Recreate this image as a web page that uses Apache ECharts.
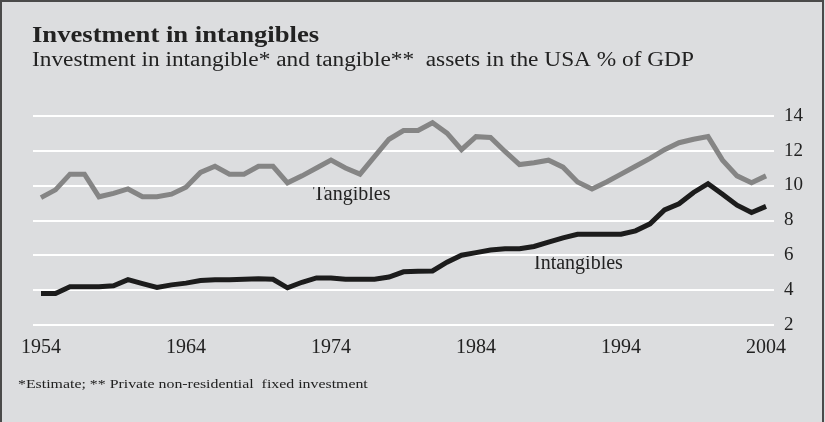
<!DOCTYPE html>
<html>
<head>
<meta charset="utf-8">
<script src="https://cdn.jsdelivr.net/npm/echarts@6/dist/echarts.min.js"></script>
<style>
html,body{margin:0;padding:0;background:#dcdddf;}
#chart{width:825px;height:422px;}
</style>
</head>
<body>
<div id="chart"></div>
<script>
var years = [1954,1955,1956,1957,1958,1959,1960,1961,1962,1963,1964,1965,1966,1967,1968,1969,1970,1971,1972,1973,1974,1975,1976,1977,1978,1979,1980,1981,1982,1983,1984,1985,1986,1987,1988,1989,1990,1991,1992,1993,1994,1995,1996,1997,1998,1999,2000,2001,2002,2003,2004];
var tangibles = [9.3,9.75,10.65,10.65,9.35,9.55,9.8,9.35,9.35,9.5,9.9,10.75,11.1,10.65,10.65,11.1,11.1,10.15,10.55,11.0,11.45,11.0,10.65,11.65,12.65,13.15,13.15,13.6,13.0,12.05,12.8,12.75,11.95,11.2,11.3,11.45,11.05,10.2,9.8,10.2,10.65,11.1,11.55,12.05,12.45,12.65,12.8,11.45,10.55,10.15,10.55];
var intangibles = [3.8,3.8,4.2,4.2,4.2,4.25,4.6,4.37,4.15,4.3,4.4,4.55,4.6,4.6,4.62,4.65,4.62,4.13,4.45,4.7,4.7,4.62,4.63,4.63,4.75,5.05,5.08,5.1,5.6,6.0,6.15,6.3,6.37,6.37,6.5,6.75,7.0,7.2,7.2,7.2,7.2,7.4,7.8,8.6,8.95,9.6,10.1,9.5,8.87,8.45,8.8];
var xTickLabels = [1954,1964,1974,1984,1994,2004];
var yTickLabels = [2,4,6,8,10,12,14];

var titleText = 'Investment in intangibles';
var subtitleText = 'Investment in intangible* and tangible**  assets in the USA % of GDP';
var footnoteText = '*Estimate; ** Private non-residential  fixed investment';

function pairs(vals){ return years.map(function(y,i){ return [y, vals[i]]; }); }

var serif = '"Liberation Serif", "Times New Roman", serif';
var chart = echarts.init(document.getElementById('chart'), null, {renderer:'canvas'});
chart.setOption({
  backgroundColor: '#dcdddf',
  animation: false,
  grid: {left: 33, right: 51, top: 115.7, bottom: 97, containLabel: false, outerBoundsMode: 'none'},
  xAxis: {
    type: 'value', min: 1953.45, max: 2004.55,
    axisLine:{show:false}, axisTick:{show:false}, splitLine:{show:false},
    axisLabel:{customValues: xTickLabels, formatter: function(v){ return String(v); },
      fontFamily: serif, fontSize: 20, color:'#222', margin: 13, showMinLabel:true, showMaxLabel:true}
  },
  yAxis: {
    type: 'value', position: 'right', min: 2, max: 14, interval: 2,
    axisLine:{show:false}, axisTick:{show:false},
    splitLine:{show:true, lineStyle:{color:'#ffffff', width:2.2}},
    axisLabel:{customValues: yTickLabels, formatter: function(v){ return String(v); },
      fontFamily: serif, fontSize: 19, color:'#222', margin: 10, align:'left', padding:[0,0,11,0]}
  },
  series: [
    {name:'Tangibles', type:'line', data: pairs(tangibles), showSymbol:false, symbol:'none',
     lineStyle:{color:'#858585', width:5, join:'miter', cap:'butt'}, z: 3},
    {name:'Intangibles', type:'line', data: pairs(intangibles), showSymbol:false, symbol:'none',
     lineStyle:{color:'#1c1c1c', width:5, join:'miter', cap:'butt'}, z: 4}
  ],
  graphic: [
    {type:'rect', shape:{x:1, y:1, width:822, height:440}, style:{fill:'none', stroke:'#4a4a4a', lineWidth:2}, silent:true, z:0},
    {type:'text', x: 32, y: 23.6, scaleX: 1.11, style:{text: titleText, font:'bold 24px ' + serif, fill:'#222'}},
    {type:'text', x: 32, y: 51, scaleX: 1.166, style:{text: subtitleText, font:'20px ' + serif, fill:'#222'}},
    {type:'text', x: 18, y: 377, scaleX: 1.175, style:{text: footnoteText, font:'13.5px ' + serif, fill:'#222'}},
    {type:'text', x: 313, y: 185, style:{text:'Tangibles', font:'20px ' + serif, fill:'#222'}},
    {type:'text', x: 534, y: 254, style:{text:'Intangibles', font:'20px ' + serif, fill:'#222'}}
  ]
});
</script>
</body>
</html>
